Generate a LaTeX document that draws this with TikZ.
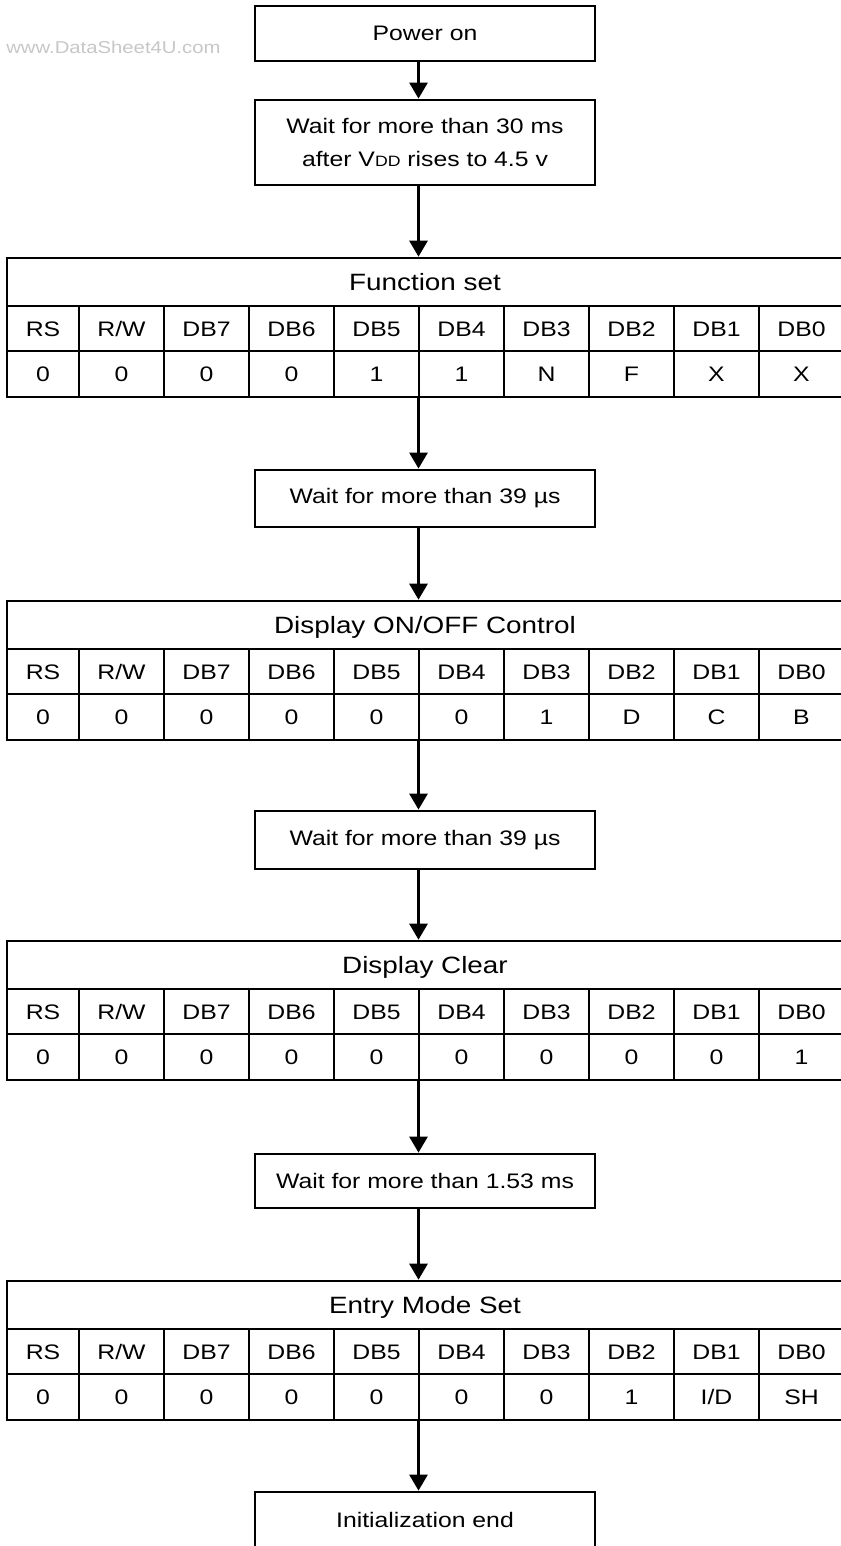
\documentclass[tikz,border=0pt]{standalone}
\usepackage{fontspec}
\setmainfont{Liberation Sans}[FakeStretch=1.18]
\usetikzlibrary{arrows.meta}

\tikzset{
  box/.style={draw, line width=1.4pt, minimum width=170pt, inner sep=0pt, align=center,
    font=\fontsize{10.5}{16.5}\selectfont},
  titlerow/.style={draw, line width=1.3pt, minimum width=418pt, minimum height=24pt, inner sep=0pt,
    text height=8.4pt, text depth=0pt, font=\fontsize{11.8}{14}\selectfont},
  cell/.style={draw, line width=1.3pt, inner sep=0pt, text height=7.5pt, text depth=0pt,
    font=\fontsize{10.5}{12}\selectfont},
  flow/.style={-{Triangle[width=9pt,length=8pt]}, line width=1.4pt}
}

\newcommand{\regtab}[4]{%
  \node[titlerow] (#1) at (425,#2+24) {#3};
  \foreach \lbl [count=\i] in {RS,R/W,DB7,DB6,DB5,DB4,DB3,DB2,DB1,DB0} {
    \pgfmathsetmacro\cx{\i==1 ? 43 : 85*\i-48.5}
    \pgfmathsetmacro\cw{\i==1 ? 36 : 42.5}
    \node[cell, minimum width=\cw pt, minimum height=22.5pt] (#1-h\i) at (\cx,#2+70.5) {\lbl};
  }
  \foreach \val [count=\i] in {#4} {
    \pgfmathsetmacro\cx{\i==1 ? 43 : 85*\i-48.5}
    \pgfmathsetmacro\cw{\i==1 ? 36 : 42.5}
    \node[cell, minimum width=\cw pt, minimum height=23pt] (#1-v\i) at (\cx,#2+116) {\val};
  }
}

\begin{document}
\begin{tikzpicture}[x=0.5pt, y=-0.5pt]
\useasboundingbox (0,0) rectangle (840,1546);

\node[anchor=base east, inner sep=0pt, text=black!22, font=\fontsize{8.6}{10}\selectfont] (wm) at (221,54) {www.DataSheet4U.com};
\coordinate (axis) at (418.5,0);

\node[box, minimum height=27.5pt] (pwr) at (425,33.5) {Power on};
\node[box, minimum height=42.5pt] (vdd) at (425,142.5) {Wait for more than 30 ms\\after V{\fontsize{7.5}{9}\selectfont DD} rises to 4.5 v};

\regtab{fset}{258}{Function set}{0,0,0,0,1,1,N,F,X,X}

\node[box, minimum height=28.5pt] (w1) at (425,498.5) {Wait for more than 39 µs};

\regtab{dctl}{601}{Display ON/OFF Control}{0,0,0,0,0,0,1,D,C,B}

\node[box, minimum height=29pt] (w2) at (425,840) {Wait for more than 39 µs};

\regtab{dclr}{941}{Display Clear}{0,0,0,0,0,0,0,0,0,1}

\node[box, minimum height=27pt] (w3) at (425,1181) {Wait for more than 1.53 ms};

\regtab{emode}{1281}{Entry Mode Set}{0,0,0,0,0,0,0,1,I/D,SH}

\node[box, minimum height=28pt] (fin) at (425,1520) {Initialization end};

\draw[flow] (pwr.south -| axis) -- (vdd.north -| axis);
\draw[flow] (vdd.south -| axis) -- (fset.north -| axis);
\draw[flow] (fset-v5.south -| axis) -- (w1.north -| axis);
\draw[flow] (w1.south -| axis) -- (dctl.north -| axis);
\draw[flow] (dctl-v5.south -| axis) -- (w2.north -| axis);
\draw[flow] (w2.south -| axis) -- (dclr.north -| axis);
\draw[flow] (dclr-v5.south -| axis) -- (w3.north -| axis);
\draw[flow] (w3.south -| axis) -- (emode.north -| axis);
\draw[flow] (emode-v5.south -| axis) -- (fin.north -| axis);

\end{tikzpicture}
\end{document}
